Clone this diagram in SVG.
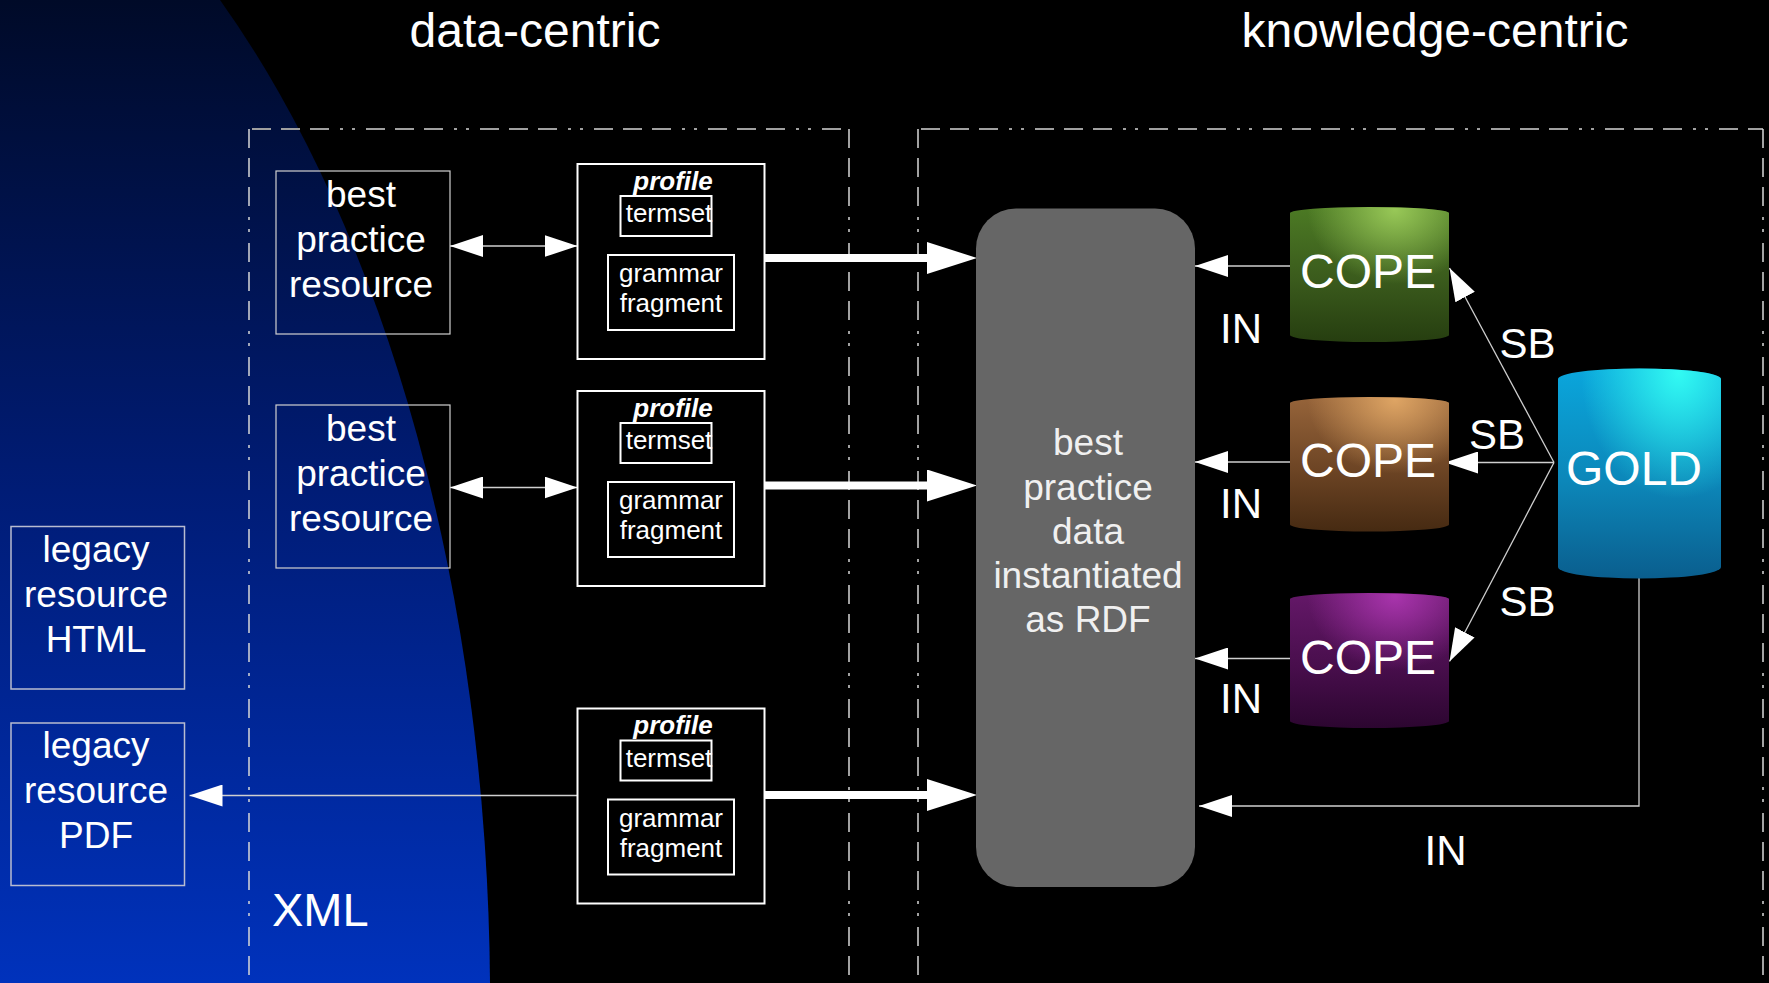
<svg xmlns="http://www.w3.org/2000/svg" width="1769" height="983" viewBox="0 0 1769 983">
  <style>
    text { font-family: "Liberation Sans", Arial, sans-serif; fill: #ffffff; }
    .title { font-size: 48px; text-anchor: middle; }
    .big { font-size: 37px; text-anchor: middle; }
    .mid { font-size: 26px; text-anchor: middle; }
    .prof { font-size: 26px; font-weight: bold; font-style: italic; text-anchor: middle; }
    .db { font-size: 48px; text-anchor: middle; }
    .lbl { font-size: 42px; text-anchor: middle; }
    .thin { fill: none; stroke: #d0d0d0; stroke-width: 1.2; }
    .legacy { fill: none; stroke: #b8bcd0; stroke-width: 1.5; }
    .frame { fill: none; stroke: #ffffff; stroke-width: 2; }
    .dash-h { fill: none; stroke: #a0a0a0; stroke-width: 2; stroke-dasharray: 19 10 19 10 19 11 3 9 3 11; stroke-dashoffset: -3; }
    .dash-v { fill: none; stroke: #d8d8d8; stroke-width: 1.5; stroke-dasharray: 19 10 19 10 19 11 3 9 3 11; }
    .link { fill: none; stroke: #cfcfcf; stroke-width: 1.3; }
    .flow { fill: none; stroke: #ffffff; stroke-width: 8; }
  </style>
  <defs>
    <linearGradient id="bgBlue" x1="0" y1="0" x2="0" y2="1">
      <stop offset="0" stop-color="#000a28"/>
      <stop offset="0.5" stop-color="#001c76"/>
      <stop offset="1" stop-color="#0032bc"/>
    </linearGradient>

    <linearGradient id="greenBase" x1="0" y1="0" x2="0" y2="1">
      <stop offset="0" stop-color="#4c7a24"/>
      <stop offset="0.55" stop-color="#3a5a1c"/>
      <stop offset="1" stop-color="#263e10"/>
    </linearGradient>
    <radialGradient id="greenGlow" cx="0.66" cy="0.02" r="0.55">
      <stop offset="0" stop-color="#9ccc5a" stop-opacity="0.95"/>
      <stop offset="1" stop-color="#9ccc5a" stop-opacity="0"/>
    </radialGradient>

    <linearGradient id="brownBase" x1="0" y1="0" x2="0" y2="1">
      <stop offset="0" stop-color="#96643a"/>
      <stop offset="0.55" stop-color="#6c4424"/>
      <stop offset="1" stop-color="#462a12"/>
    </linearGradient>
    <radialGradient id="brownGlow" cx="0.66" cy="0.02" r="0.55">
      <stop offset="0" stop-color="#e2a866" stop-opacity="0.95"/>
      <stop offset="1" stop-color="#e2a866" stop-opacity="0"/>
    </radialGradient>

    <linearGradient id="purpleBase" x1="0" y1="0" x2="0" y2="1">
      <stop offset="0" stop-color="#641868"/>
      <stop offset="0.55" stop-color="#480e4c"/>
      <stop offset="1" stop-color="#2c0630"/>
    </linearGradient>
    <radialGradient id="purpleGlow" cx="0.66" cy="0.02" r="0.55">
      <stop offset="0" stop-color="#ac36b0" stop-opacity="0.95"/>
      <stop offset="1" stop-color="#ac36b0" stop-opacity="0"/>
    </radialGradient>

    <linearGradient id="goldBase" x1="0" y1="0" x2="0" y2="1">
      <stop offset="0" stop-color="#0aa6dc"/>
      <stop offset="0.55" stop-color="#0c86b8"/>
      <stop offset="1" stop-color="#0a5e8e"/>
    </linearGradient>
    <radialGradient id="goldGlow" cx="0.74" cy="0.02" r="0.6">
      <stop offset="0" stop-color="#34fff4" stop-opacity="0.95"/>
      <stop offset="1" stop-color="#34fff4" stop-opacity="0"/>
    </radialGradient>

    <marker id="tip" markerUnits="userSpaceOnUse" viewBox="0 0 33 22" markerWidth="33" markerHeight="22" refX="33" refY="11" orient="auto-start-reverse">
      <path d="M0,0 L33,11 L0,22 Z" fill="#ffffff"/>
    </marker>
    <marker id="tipBig" markerUnits="userSpaceOnUse" viewBox="0 0 50 32" markerWidth="50" markerHeight="32" refX="0" refY="16" orient="auto">
      <path d="M0,0 L50,16 L0,32 Z" fill="#ffffff"/>
    </marker>
  </defs>

  <!-- page background -->
  <rect x="0" y="0" width="1769" height="983" fill="#000000"/>
  <path d="M0,0 L220,0 A690,1260 0 0 1 490,983 L0,983 Z" fill="url(#bgBlue)"/>

  <!-- section headings -->
  <text class="title" x="535" y="47">data-centric</text>
  <text class="title" x="1435" y="47">knowledge-centric</text>

  <!-- section frames -->
  <g id="frames">
    <path class="dash-h" d="M249,129 L849,129"/>
    <path class="dash-v" d="M249,129 L249,983"/>
    <path class="dash-v" d="M849,129 L849,983"/>
    <path class="dash-h" d="M918,129 L1763,129"/>
    <path class="dash-v" d="M918,129 L918,983"/>
    <path class="dash-v" d="M1763,129 L1763,983"/>
  </g>
  <text id="xml-label" x="272" y="926" style="font-size:47px">XML</text>

  <!-- connectors -->
  <g id="connectors">
    <!-- resource <-> profile -->
    <path class="link" d="M450,246 L577.5,246" marker-start="url(#tip)" marker-end="url(#tip)"/>
    <path class="link" d="M450,487.5 L577.5,487.5" marker-start="url(#tip)" marker-end="url(#tip)"/>
    <!-- profile -> legacy PDF -->
    <path class="link" d="M577.5,795.5 L189.5,795.5" marker-end="url(#tip)"/>
    <!-- profiles -> RDF data -->
    <path class="flow" d="M764,258 L927,258" marker-end="url(#tipBig)"/>
    <path class="flow" d="M764,485.5 L927,485.5" marker-end="url(#tipBig)"/>
    <path class="flow" d="M764,795 L927,795" marker-end="url(#tipBig)"/>
    <!-- COPE -> RDF data (IN) -->
    <path class="link" d="M1290,266 L1195,266" marker-end="url(#tip)"/>
    <path class="link" d="M1290,462 L1195,462" marker-end="url(#tip)"/>
    <path class="link" d="M1290,658.5 L1195,658.5" marker-end="url(#tip)"/>
    <!-- GOLD -> COPE (SB) -->
    <path class="link" d="M1554,462.5 L1449.5,268" marker-end="url(#tip)"/>
    <path class="link" d="M1554,462.5 L1445,462.5" marker-end="url(#tip)"/>
    <path class="link" d="M1554,462.5 L1449.5,661.5" marker-end="url(#tip)"/>
    <!-- GOLD -> RDF data (IN) -->
    <path class="link" d="M1639,578 L1639,806 L1199,806" marker-end="url(#tip)"/>
  </g>

  <!-- edge labels -->
  <g id="edge-labels">
    <text class="lbl" x="1241" y="343">IN</text>
    <text class="lbl" x="1241" y="517.5">IN</text>
    <text class="lbl" x="1241" y="713">IN</text>
    <text class="lbl" x="1445.5" y="865">IN</text>
    <text class="lbl" x="1527.5" y="358">SB</text>
    <text class="lbl" x="1497" y="449">SB</text>
    <text class="lbl" x="1527.5" y="616">SB</text>
  </g>

  <!-- legacy resources -->
  <g id="legacy-html">
    <rect class="legacy" x="11" y="526.5" width="173.5" height="162.5"/>
    <text class="big" x="96" y="562">legacy</text>
    <text class="big" x="96" y="607">resource</text>
    <text class="big" x="96" y="652">HTML</text>
  </g>
  <g id="legacy-pdf">
    <rect class="legacy" x="11" y="723" width="173.5" height="162.5"/>
    <text class="big" x="96" y="758">legacy</text>
    <text class="big" x="96" y="803">resource</text>
    <text class="big" x="96" y="848">PDF</text>
  </g>

  <!-- best practice resources -->
  <g id="resource-1">
    <rect class="thin" x="276" y="171" width="174" height="163"/>
    <text class="big" x="361" y="207">best</text>
    <text class="big" x="361" y="252">practice</text>
    <text class="big" x="361" y="297">resource</text>
  </g>
  <g id="resource-2">
    <rect class="thin" x="276" y="405" width="174" height="163"/>
    <text class="big" x="361" y="440.5">best</text>
    <text class="big" x="361" y="485.5">practice</text>
    <text class="big" x="361" y="530.5">resource</text>
  </g>

  <!-- profiles -->
  <g id="profile-1" transform="translate(0,164)">
    <rect class="frame" x="577.5" y="0" width="187" height="195"/>
    <text class="prof" x="673" y="25.5">profile</text>
    <rect class="frame" x="620.5" y="32" width="91" height="40"/>
    <text class="mid" x="669" y="58">termset</text>
    <rect class="frame" x="608" y="91" width="126" height="75"/>
    <text class="mid" x="671" y="118">grammar</text>
    <text class="mid" x="671" y="148">fragment</text>
  </g>
  <g id="profile-2" transform="translate(0,391)">
    <rect class="frame" x="577.5" y="0" width="187" height="195"/>
    <text class="prof" x="673" y="25.5">profile</text>
    <rect class="frame" x="620.5" y="32" width="91" height="40"/>
    <text class="mid" x="669" y="58">termset</text>
    <rect class="frame" x="608" y="91" width="126" height="75"/>
    <text class="mid" x="671" y="118">grammar</text>
    <text class="mid" x="671" y="148">fragment</text>
  </g>
  <g id="profile-3" transform="translate(0,708.5)">
    <rect class="frame" x="577.5" y="0" width="187" height="195"/>
    <text class="prof" x="673" y="25.5">profile</text>
    <rect class="frame" x="620.5" y="32" width="91" height="40"/>
    <text class="mid" x="669" y="58">termset</text>
    <rect class="frame" x="608" y="91" width="126" height="75"/>
    <text class="mid" x="671" y="118">grammar</text>
    <text class="mid" x="671" y="148">fragment</text>
  </g>

  <!-- RDF data store -->
  <g id="rdf-data">
    <rect x="976" y="208.5" width="219" height="678.5" rx="40" ry="40" fill="#666666"/>
    <text class="big" x="1088" y="454.5" style="fill:#f0f0f0">best</text>
    <text class="big" x="1088" y="499.5" style="fill:#f0f0f0">practice</text>
    <text class="big" x="1088" y="544" style="fill:#f0f0f0">data</text>
    <text class="big" x="1088" y="588" style="fill:#f0f0f0">instantiated</text>
    <text class="big" x="1088" y="632" style="fill:#f0f0f0">as RDF</text>
  </g>

  <!-- ontology cylinders -->
  <g id="cope-green">
    <path d="M1290,213 A79.5,6 0 0 1 1449,213 L1449,335 A79.5,7 0 0 1 1290,335 Z" fill="url(#greenBase)"/>
    <path d="M1290,213 A79.5,6 0 0 1 1449,213 L1449,335 A79.5,7 0 0 1 1290,335 Z" fill="url(#greenGlow)"/>
    <text class="db" x="1368" y="288">COPE</text>
  </g>
  <g id="cope-brown">
    <path d="M1290,403 A79.5,6 0 0 1 1449,403 L1449,524.5 A79.5,7 0 0 1 1290,524.5 Z" fill="url(#brownBase)"/>
    <path d="M1290,403 A79.5,6 0 0 1 1449,403 L1449,524.5 A79.5,7 0 0 1 1290,524.5 Z" fill="url(#brownGlow)"/>
    <text class="db" x="1368" y="477">COPE</text>
  </g>
  <g id="cope-purple">
    <path d="M1290,599 A79.5,6 0 0 1 1449,599 L1449,721 A79.5,7 0 0 1 1290,721 Z" fill="url(#purpleBase)"/>
    <path d="M1290,599 A79.5,6 0 0 1 1449,599 L1449,721 A79.5,7 0 0 1 1290,721 Z" fill="url(#purpleGlow)"/>
    <text class="db" x="1368" y="674">COPE</text>
  </g>
  <g id="gold">
    <path d="M1558,379 A81.5,10.5 0 0 1 1721,379 L1721,567 A81.5,11.5 0 0 1 1558,567 Z" fill="url(#goldBase)"/>
    <path d="M1558,379 A81.5,10.5 0 0 1 1721,379 L1721,567 A81.5,11.5 0 0 1 1558,567 Z" fill="url(#goldGlow)"/>
    <text class="db" x="1634" y="485">GOLD</text>
  </g>
</svg>
